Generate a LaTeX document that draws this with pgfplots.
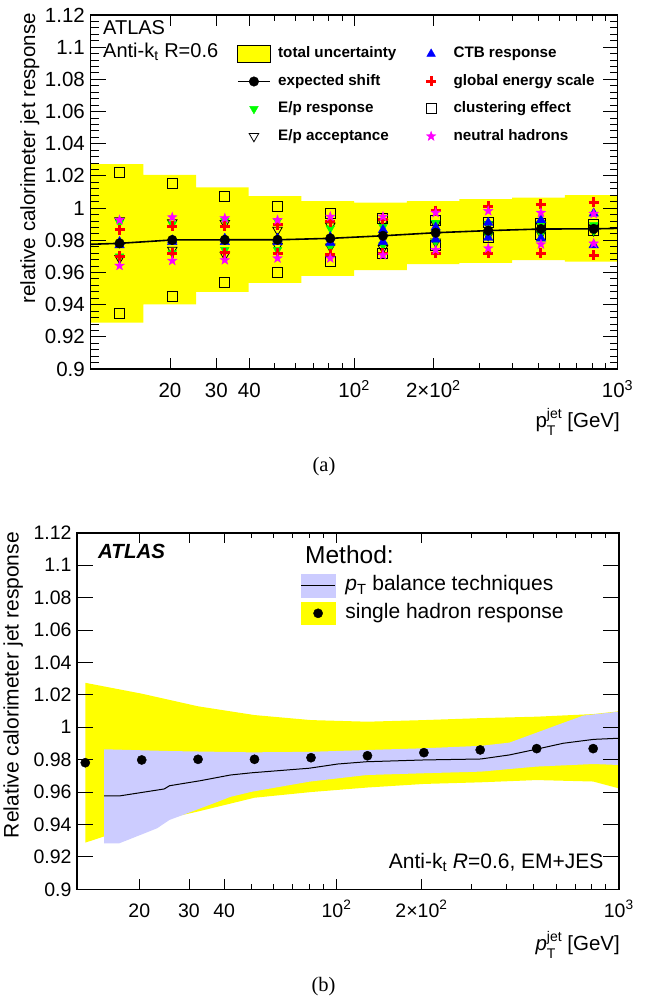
\documentclass[border=0pt]{standalone}
\usepackage{fontspec}
\setmainfont{Liberation Sans}
\newfontfamily\seriffont{Liberation Serif}
\usepackage{pgfplots}
\pgfplotsset{compat=1.18}
\definecolor{rootyellow}{RGB}{255,255,0}
\definecolor{rootgreen}{RGB}{0,255,0}
\definecolor{rootblue}{RGB}{0,0,255}
\definecolor{rootred}{RGB}{255,0,0}
\definecolor{rootmagenta}{RGB}{255,0,255}
\definecolor{bandblue}{RGB}{204,204,255}
\pgfdeclareplotmark{fstar}{%
  \pgfpathmoveto{\pgfpointpolar{90}{\pgfplotmarksize}}%
  \pgfpathlineto{\pgfpointpolar{126}{0.4\pgfplotmarksize}}%
  \pgfpathlineto{\pgfpointpolar{162}{\pgfplotmarksize}}%
  \pgfpathlineto{\pgfpointpolar{198}{0.4\pgfplotmarksize}}%
  \pgfpathlineto{\pgfpointpolar{234}{\pgfplotmarksize}}%
  \pgfpathlineto{\pgfpointpolar{270}{0.4\pgfplotmarksize}}%
  \pgfpathlineto{\pgfpointpolar{306}{\pgfplotmarksize}}%
  \pgfpathlineto{\pgfpointpolar{342}{0.4\pgfplotmarksize}}%
  \pgfpathlineto{\pgfpointpolar{18}{\pgfplotmarksize}}%
  \pgfpathlineto{\pgfpointpolar{54}{0.4\pgfplotmarksize}}%
  \pgfpathclose
  \pgfusepathqfillstroke}
\begin{document}
\begin{tikzpicture}
\path[use as bounding box] (0pt,0pt) rectangle (648pt,-998pt);

%% ---------------- panel (a) ----------------
\begin{axis}[
  at={(90.7pt,-369pt)}, anchor=south west,
  scale only axis, width=526.8pt, height=354pt,
  xmode=log, xmin=10, xmax=1000, ymin=0.9, ymax=1.12,
  axis on top,
  axis line style={black, line width=1.3pt},
  tick style={black, line width=0.9pt},
  tick align=inside,
  major tick length=15pt, minor tick length=8pt,
  xtick={100,1000},
  xticklabels={10\textsuperscript{2},10\textsuperscript{3}},
  xtick style={/pgfplots/major tick length=11pt,/pgfplots/minor tick length=6pt},
  extra x ticks={20,30,40,200},
  extra x tick labels={20,30,40,2×10\textsuperscript{2}},
  extra x tick style={/pgfplots/major tick length=6pt},
  minor xtick={50,60,70,80,90,300,400,500,600,700,800,900},
  ytick={0.9,0.92,0.94,0.96,0.98,1,1.02,1.04,1.06,1.08,1.1,1.12},
  yticklabels={0.9,0.92,0.94,0.96,0.98,1,1.02,1.04,1.06,1.08,1.1,1.12},
  minor y tick num=4,
  ticklabel style={font=\fontsize{20.5pt}{24pt}\selectfont},
  xticklabel style={inner sep=0pt, text height=14.7pt, text depth=0pt, anchor=north, yshift=-14pt},
  yticklabel style={inner sep=0pt, anchor=east, xshift=-5.7pt},
  legend columns=2,
  legend style={at={(0.2773,0.9154)}, anchor=north west, draw=none, fill=none,
    inner sep=0pt, row sep=10.3pt, column sep=0pt,
    font=\bfseries\fontsize{15.2pt}{18pt}\selectfont,
    nodes={inner sep=0pt, text height=11pt, text depth=3.5pt}, cells={anchor=west}},
]
% total uncertainty band (bins of 0.2 decade)
\addplot[fill=rootyellow, draw=none, forget plot] coordinates {
(10,1.0274)(15.85,1.0274)(15.85,1.0207)(25.12,1.0207)(25.12,1.0129)(39.81,1.0129)
(39.81,1.0075)(63.1,1.0075)(63.1,1.0044)(100,1.0044)(100,1.0034)(158.5,1.0034)
(158.5,1.0044)(251.2,1.0044)(251.2,1.0056)(398.1,1.0056)(398.1,1.0065)(631,1.0065)
(631,1.0081)(1000,1.0081)
(1000,0.9667)(631,0.9667)(631,0.9677)(398.1,0.9677)(398.1,0.966)(251.2,0.966)
(251.2,0.9652)(158.5,0.9652)(158.5,0.9615)(100,0.9615)(100,0.9578)(63.1,0.9578)
(63.1,0.9536)(39.81,0.9536)(39.81,0.948)(25.12,0.948)(25.12,0.9402)(15.85,0.9402)
(15.85,0.9288)(10,0.9288)};
% clustering effect
\addplot[only marks, mark=square, mark size=5pt, black, line width=1pt, forget plot] coordinates {
(12.87,1.0222)(12.87,0.9346)(20.4,1.0154)(20.4,0.945)(32.3,1.0075)(32.3,0.9539)
(51.2,1.0013)(51.2,0.9598)(81.2,0.9967)(81.2,0.9667)(128.7,0.9934)(128.7,0.9719)
(204,0.992)(204,0.977)(323,0.9912)(323,0.9818)(512,0.9906)(512,0.9839)(812,0.9895)(812,0.986)};
% E/p acceptance
\addplot[only marks, mark=triangle, mark size=5.5pt, black, line width=0.8pt, mark options={rotate=180}, forget plot] coordinates {
(12.87,0.9922)(12.87,0.9688)(20.4,0.991)(20.4,0.974)(32.3,0.9906)(32.3,0.9708)
(51.2,0.9864)(51.2,0.9764)(81.2,0.989)(81.2,0.976)(128.7,0.991)(128.7,0.975)
(204,0.990)(204,0.979)(323,0.990)(323,0.983)(512,0.989)(512,0.984)(812,0.988)(812,0.986)};
% E/p response
\addplot[only marks, mark=triangle*, mark size=5pt, rootgreen, mark options={rotate=180}, forget plot] coordinates {
(12.87,0.991)(12.87,0.970)(20.4,0.990)(20.4,0.972)(32.3,0.992)(32.3,0.974)
(51.2,0.992)(51.2,0.974)(81.2,0.9874)(81.2,0.976)(128.7,0.9884)(128.7,0.977)
(204,0.9909)(204,0.979)(323,0.990)(323,0.983)(512,0.990)(512,0.984)(812,0.9895)(812,0.986)};
% CTB response
\addplot[only marks, mark=triangle*, mark size=5.5pt, rootblue, forget plot] coordinates {
(12.87,0.979)(12.87,0.977)(20.4,0.980)(20.4,0.979)(32.3,0.981)(32.3,0.979)
(51.2,0.981)(51.2,0.979)(81.2,0.982)(81.2,0.9785)(128.7,0.9864)(128.7,0.979)
(204,0.988)(204,0.9806)(323,0.9909)(323,0.9816)(512,0.9926)(512,0.9812)(812,0.9967)(812,0.977)};
% global energy scale
\addplot[only marks, mark=+, mark size=5pt, rootred, line width=3pt, forget plot] coordinates {
(12.87,0.9864)(12.87,0.9702)(20.4,0.9888)(20.4,0.9719)(32.3,0.9888)(32.3,0.9723)
(51.2,0.9895)(51.2,0.9719)(81.2,0.9915)(81.2,0.9714)(128.7,0.993)(128.7,0.9719)
(204,0.9984)(204,0.9719)(323,1.0013)(323,0.9719)(512,1.0025)(512,0.9719)(812,1.0036)(812,0.9708)};
% neutral hadrons
\addplot[only marks, mark=fstar, mark size=5pt, rootmagenta, forget plot] coordinates {
(12.87,0.9926)(12.87,0.9642)(20.4,0.9943)(20.4,0.9673)(32.3,0.9937)(32.3,0.9677)
(51.2,0.9926)(51.2,0.9688)(81.2,0.9947)(81.2,0.9688)(128.7,0.9947)(128.7,0.9708)
(204,0.9971)(204,0.974)(323,0.9982)(323,0.975)(512,0.9971)(512,0.9775)(812,0.9965)(812,0.978)};
% expected shift
\addplot[black, line width=1.6pt, forget plot] coordinates {
(10,0.9775)(12.87,0.9781)(20.4,0.9802)(32.3,0.9803)(51.2,0.9803)(81.2,0.9812)
(128.7,0.9828)(204,0.9847)(323,0.986)(512,0.987)(812,0.9871)(1000,0.9874)};
\addplot[only marks, mark=*, mark size=4.8pt, black, forget plot] coordinates {
(12.87,0.9781)(20.4,0.9802)(32.3,0.9803)(51.2,0.9803)(81.2,0.9812)
(128.7,0.9828)(204,0.9847)(323,0.986)(512,0.987)(812,0.9871)};
% legend
\addlegendimage{legend image code/.code={\draw[black, line width=0.8pt, fill=rootyellow] (0pt,-8.35pt) rectangle (32.3pt,8.35pt); \path (40.2pt,0pt);}}
\addlegendentry{total uncertainty}
\addlegendimage{legend image code/.code={\path (0pt,-8.35pt) (56.7pt,8.35pt); \draw[only marks, mark=triangle*, mark size=5pt, rootblue] plot coordinates {(34.5pt,0pt)};}}
\addlegendentry{CTB response}
\addlegendimage{legend image code/.code={\path (0pt,-8.35pt) (40.2pt,8.35pt); \draw[black, line width=1.6pt] (0pt,0pt) -- (32.3pt,0pt); \draw[only marks, mark=*, mark size=4.8pt, black] plot coordinates {(16.15pt,0pt)};}}
\addlegendentry{expected shift}
\addlegendimage{legend image code/.code={\path (0pt,-8.35pt) (56.7pt,8.35pt); \draw[only marks, mark=+, mark size=5pt, line width=3pt, rootred] plot coordinates {(34.5pt,0pt)};}}
\addlegendentry{global energy scale}
\addlegendimage{legend image code/.code={\path (0pt,-8.35pt) (40.2pt,8.35pt); \draw[only marks, mark=triangle*, mark size=5pt, rootgreen, mark options={rotate=180}] plot coordinates {(16.15pt,0pt)};}}
\addlegendentry{E/p response}
\addlegendimage{legend image code/.code={\path (0pt,-8.35pt) (56.7pt,8.35pt); \draw[only marks, mark=square, mark size=5pt, line width=1pt, black] plot coordinates {(34.5pt,0pt)};}}
\addlegendentry{clustering effect}
\addlegendimage{legend image code/.code={\path (0pt,-8.35pt) (40.2pt,8.35pt); \draw[only marks, mark=triangle, mark size=5.5pt, line width=0.8pt, black, mark options={rotate=180}] plot coordinates {(16.15pt,0pt)};}}
\addlegendentry{E/p acceptance}
\addlegendimage{legend image code/.code={\path (0pt,-8.35pt) (56.7pt,8.35pt); \draw[only marks, mark=fstar, mark size=5pt, rootmagenta] plot coordinates {(34.5pt,0pt)};}}
\addlegendentry{neutral hadrons}
\end{axis}

\node[anchor=base west, inner sep=0pt, font=\fontsize{20pt}{24pt}\selectfont] at (103pt,-35pt) {ATLAS};
\node[anchor=base west, inner sep=0pt, font=\fontsize{20pt}{24pt}\selectfont] at (103pt,-57.3pt) {Anti-k\textsubscript{t} R=0.6};
\node[rotate=90, anchor=base east, inner sep=0pt, font=\fontsize{20.5pt}{24pt}\selectfont] at (35pt,-13pt) {relative calorimeter jet response};
\node[anchor=base east, inner sep=0pt, font=\fontsize{20.5pt}{24pt}\selectfont] at (620pt,-427.3pt)
  {p\rlap{\raisebox{-0.38em}{\fontsize{14pt}{14pt}\selectfont T}}\raisebox{0.45em}{\fontsize{14pt}{14pt}\selectfont jet}\ [GeV]};
\node[inner sep=0pt, font=\seriffont\fontsize{20.5pt}{24pt}\selectfont] at (324pt,-466.5pt) {(a)};

%% ---------------- panel (b) ----------------
\begin{axis}[
  at={(76.7pt,-889.3pt)}, anchor=south west,
  scale only axis, width=542pt, height=356.6pt,
  xmode=log, xmin=12, xmax=1000, ymin=0.9, ymax=1.12,
  axis on top,
  axis line style={black, line width=1.6pt},
  tick style={black, line width=0.9pt},
  tick align=inside,
  major tick length=16pt, minor tick length=5.5pt,
  xtick={100,1000},
  xticklabels={10\textsuperscript{2},10\textsuperscript{3}},
  xtick style={/pgfplots/major tick length=10pt,/pgfplots/minor tick length=5.5pt},
  extra x ticks={20,30,40,200},
  extra x tick labels={20,30,40,2×10\textsuperscript{2}},
  extra x tick style={/pgfplots/major tick length=5.5pt},
  minor xtick={50,60,70,80,90,300,400,500,600,700,800,900},
  ytick={0.9,0.92,0.94,0.96,0.98,1,1.02,1.04,1.06,1.08,1.1,1.12},
  yticklabels={0.9,0.92,0.94,0.96,0.98,1,1.02,1.04,1.06,1.08,1.1,1.12},
  ticklabel style={font=\fontsize{19.5pt}{23pt}\selectfont},
  xticklabel style={inner sep=0pt, text height=14pt, text depth=0pt, anchor=north, yshift=-14pt},
  yticklabel style={inner sep=0pt, anchor=east, xshift=-5pt},
  legend style={at={(0.4127,0.8836)}, anchor=north west, draw=none, fill=none,
    inner sep=0pt, row sep=5pt, column sep=0pt,
    font=\fontsize{21pt}{25pt}\selectfont,
    nodes={inner sep=0pt, text height=15pt, text depth=4.5pt}, cells={anchor=west}},
]
% single hadron response uncertainty
\addplot[fill=rootyellow, draw=none, forget plot] coordinates {
(12.87,1.0274)(20.4,1.0207)(32.3,1.0129)(51.2,1.0075)(81.2,1.0044)(128.7,1.0034)
(204,1.0044)(323,1.0056)(512,1.0065)(812,1.0081)(1000,1.0098)
(1000,0.9623)(812,0.9665)(512,0.9674)(323,0.966)(204,0.965)(128.7,0.9628)
(81.2,0.960)(51.2,0.9565)(32.3,0.948)(20.4,0.9402)(12.87,0.9288)};
% pT balance band
\addplot[fill=bandblue, draw=none, forget plot] coordinates {
(15,0.9864)(25.6,0.9853)(50,0.9845)(80,0.9848)(143,0.9862)(203,0.987)(324,0.9885)
(410,0.9905)(500,0.996)(620,1.002)(750,1.0072)(1000,1.0096)
(1000,0.9767)(815,0.9773)(510,0.9757)(324.6,0.9726)(203.7,0.9716)(127.6,0.9705)
(80,0.9664)(50.1,0.9602)(42,0.957)(38.6,0.9545)(29.6,0.9469)(25.6,0.9428)
(23.1,0.9376)(17,0.9284)(15,0.9284)};
\addplot[black, line width=1pt, forget plot] coordinates {
(15,0.9576)(17,0.9576)(24.5,0.9619)(25.6,0.9639)(32.9,0.967)(42,0.9705)(50.1,0.9719)
(80,0.9747)(101,0.9773)(127.6,0.9787)(203.7,0.9798)(324.6,0.9804)(410,0.9829)
(510,0.9864)(636,0.9901)(815,0.9925)(1000,0.9932)};
\addplot[only marks, mark=*, mark size=4.6pt, black, forget plot] coordinates {
(12.87,0.9781)(20.4,0.9798)(32.3,0.9802)(51.2,0.9802)(81.2,0.9812)
(128.7,0.9824)(204,0.9843)(323,0.986)(512,0.9868)(812,0.9868)};
\addlegendimage{legend image code/.code={\fill[bandblue] (0pt,-11.1pt) rectangle (34.1pt,11.1pt); \draw[black, line width=1pt] (0pt,0pt) -- (34.1pt,0pt); \path (44.1pt,0pt);}}
\addlegendentry{\textit{p}\textsubscript{T} balance techniques}
\addlegendimage{legend image code/.code={\fill[rootyellow] (0pt,-11.1pt) rectangle (34.1pt,11.1pt); \draw[only marks, mark=*, mark size=4.6pt, black] plot coordinates {(17pt,0pt)}; \path (44.1pt,0pt);}}
\addlegendentry{single hadron response}
\end{axis}

\node[anchor=base west, inner sep=0pt, font=\bfseries\itshape\fontsize{20.5pt}{24pt}\selectfont] at (98pt,-558.3pt) {ATLAS};
\node[anchor=base west, inner sep=0pt, font=\fontsize{24.5pt}{28pt}\selectfont] at (305pt,-563.8pt) {Method:};
\node[anchor=base east, inner sep=0pt, font=\fontsize{21pt}{25pt}\selectfont] at (603.7pt,-868.3pt) {Anti-k\textsubscript{t} \textit{R}=0.6, EM+JES};
\node[rotate=90, anchor=base east, inner sep=0pt, font=\fontsize{21pt}{25pt}\selectfont] at (18.5pt,-532pt) {Relative calorimeter jet response};
\node[anchor=base east, inner sep=0pt, font=\fontsize{20.5pt}{24pt}\selectfont] at (620pt,-950.8pt)
  {\textit{p}\rlap{\raisebox{-0.38em}{\fontsize{14pt}{14pt}\selectfont T}}\raisebox{0.45em}{\fontsize{14pt}{14pt}\selectfont jet}\ [GeV]};
\node[inner sep=0pt, font=\seriffont\fontsize{20.5pt}{24pt}\selectfont] at (323.6pt,-986.7pt) {(b)};
\end{tikzpicture}
\end{document}
